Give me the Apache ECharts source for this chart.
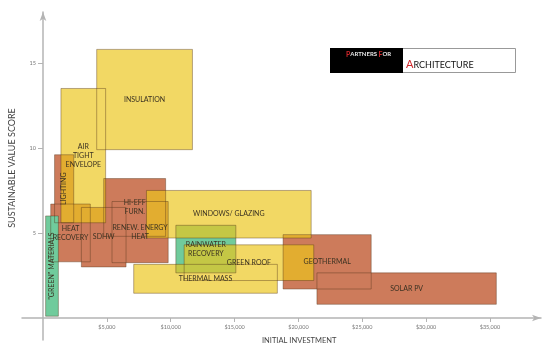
<!DOCTYPE html>
<html>
<head>
<meta charset="utf-8">
<script src="https://cdn.jsdelivr.net/npm/echarts@6/dist/echarts.min.js"></script>
<style>
  html, body { margin: 0; padding: 0; background: #fff; }
  #chart { width: 550px; height: 352px; }
</style>
</head>
<body>
<div id="chart"></div>
<script>
// measures
const names = ['INSULATION', 'AIR\nTIGHT\nENVELOPE', 'LIGHTING', 'HEAT\nRECOVERY', 'SDHW',
  'HI-EFF\nFURN.', 'RENEW. ENERGY\nHEAT', 'WINDOWS/ GLAZING', 'RAINWATER\nRECOVERY',
  'GREEN ROOF', 'THERMAL MASS', 'GEOTHERMAL', 'SOLAR PV', '"GREEN" MATERIALS'];
const kinds = ['yellow', 'yellow', 'red', 'red', 'red', 'red', 'red', 'yellow', 'green',
  'yellow', 'yellow', 'red', 'red', 'green'];
// investment range ($) and value score range
const costLow  = [4200, 1400,  900,  600, 3000, 4750, 5400,  8100, 10400, 11050,  7100, 18800, 21450,  200];
const costHigh = [11700, 4900, 2400, 3700, 6500, 9600, 9800, 21000, 15100, 21200, 18350, 25700, 35500, 1200];
const scoreLow  = [9.9,  5.6, 5.6, 3.3, 3.0, 4.8, 3.25, 4.7, 2.65, 2.2, 1.45, 1.7, 0.8,  0.1];
const scoreHigh = [15.8, 13.5, 9.6, 6.7, 6.5, 8.2, 6.85, 7.5, 5.45, 4.3, 3.15, 4.9, 2.65, 6.0];

const xTicks = [5000, 10000, 15000, 20000, 25000, 30000, 35000];
const yTicks = [5, 10, 15];

const FONT = 'Lato, "Noto Sans", sans-serif';
const FILL = { red: '#cd7b5b', green: '#70cb9c', yellow: 'rgb(236,198,28)' };

function rows(kind) {
  const out = [];
  names.forEach((n, i) => {
    if (kind == null || kinds[i] === kind) out.push([costLow[i], costHigh[i], scoreLow[i], scoreHigh[i], i]);
  });
  return out;
}

function rectOf(api) {
  const p0 = api.coord([api.value(0), api.value(3)]);
  const p1 = api.coord([api.value(1), api.value(2)]);
  return { x: p0[0], y: p0[1], width: p1[0] - p0[0], height: p1[1] - p0[1] };
}

function fillSeries(kind, zlevel) {
  return {
    type: 'custom',
    zlevel: zlevel,
    silent: true,
    data: rows(kind),
    renderItem: function (params, api) {
      return { type: 'rect', shape: rectOf(api), style: { fill: FILL[kind] } };
    }
  };
}

const chart = echarts.init(document.getElementById('chart'));

chart.setOption({
  animation: false,
  grid: { left: 22, top: 12, width: 519, height: 328 },
  xAxis: {
    type: 'value', min: -1650, max: 39000, offset: -22,
    splitLine: { show: false },
    axisLine: { onZero: false, symbol: ['none', 'arrow'], symbolSize: [5, 9],
      lineStyle: { color: '#b4b4b4', width: 1.5 } },
    axisTick: { customValues: xTicks, length: 4, lineStyle: { color: '#b4b4b4' } },
    axisLabel: { customValues: xTicks, fontSize: 5.5, color: '#777', fontFamily: FONT, margin: 6,
      formatter: v => '$' + v.toLocaleString('en-US') }
  },
  yAxis: {
    type: 'value', min: -1.3, max: 18, offset: -21,
    splitLine: { show: false },
    axisLine: { onZero: false, symbol: ['none', 'arrow'], symbolSize: [5, 9],
      lineStyle: { color: '#b4b4b4', width: 1.5 } },
    axisTick: { customValues: yTicks, length: 5, lineStyle: { color: '#b4b4b4' } },
    axisLabel: { customValues: yTicks, fontSize: 5.5, color: '#777', fontFamily: FONT, margin: 7 }
  },
  graphic: [
    { type: 'text', left: 262, top: 337,
      style: { text: 'INITIAL INVESTMENT', fontSize: 7.5, fill: '#444', fontFamily: FONT } },
    { type: 'text', x: 12, y: 168, rotation: Math.PI / 2,
      style: { text: 'SUSTAINABLE VALUE SCORE', fontSize: 9, fill: '#444', fontFamily: FONT,
        align: 'center', verticalAlign: 'middle' } },
    { type: 'rect', shape: { x: 330.5, y: 48.5, width: 185, height: 24 },
      style: { fill: '#fff', stroke: '#999', lineWidth: 1 } },
    { type: 'rect', shape: { x: 330, y: 48, width: 73, height: 25 }, style: { fill: '#000' } },
    { type: 'text', x: 346, y: 51,
      style: { text: '{r|P}{w|ARTNERS }{r|F}{w|OR}', fontFamily: FONT,
        rich: { r: { fill: '#d0262a', fontSize: 7, fontWeight: 'bold', fontFamily: FONT },
                w: { fill: '#e6e6e6', fontSize: 6, fontWeight: 'bold', fontFamily: FONT } } } },
    { type: 'text', x: 406, y: 59,
      style: { text: '{a|A}{b|RCHITECTURE}', fontFamily: FONT,
        rich: { a: { fill: '#d0262a', fontSize: 11, fontFamily: FONT, verticalAlign: 'bottom' },
                b: { fill: '#111', fontSize: 9, fontFamily: FONT, verticalAlign: 'bottom' } } } }
  ],
  series: [
    fillSeries('red', 0),
    fillSeries('green', 0),
    fillSeries('yellow', 1),
    {
      // outlines and labels on top of every fill
      type: 'custom',
      zlevel: 2,
      silent: true,
      data: rows(null),
      renderItem: function (params, api) {
        const r = rectOf(api);
        const i = api.value(4);
        const upright = r.width < 25;
        return {
          type: 'group',
          children: [
            { type: 'rect', shape: r,
              style: { fill: 'none', stroke: 'rgba(80,50,25,0.4)', lineWidth: 1 } },
            { type: 'text', x: r.x + r.width / 2, y: r.y + r.height / 2,
              rotation: upright ? Math.PI / 2 : 0,
              style: { text: names[i], fontSize: 7, fontFamily: FONT, fill: '#3b3222',
                align: 'center', verticalAlign: 'middle', lineHeight: 9 } }
          ]
        };
      }
    }
  ]
});

// yellow boards are see-through as one layer, so they do not darken each other
function fadeYellow() {
  const painter = chart.getZr().painter;
  const layer = painter && painter.getLayer ? painter.getLayer(1) : null;
  if (layer && layer.dom) layer.dom.style.opacity = '0.68';
}
fadeYellow();
chart.on('finished', fadeYellow);
</script>
</body>
</html>
